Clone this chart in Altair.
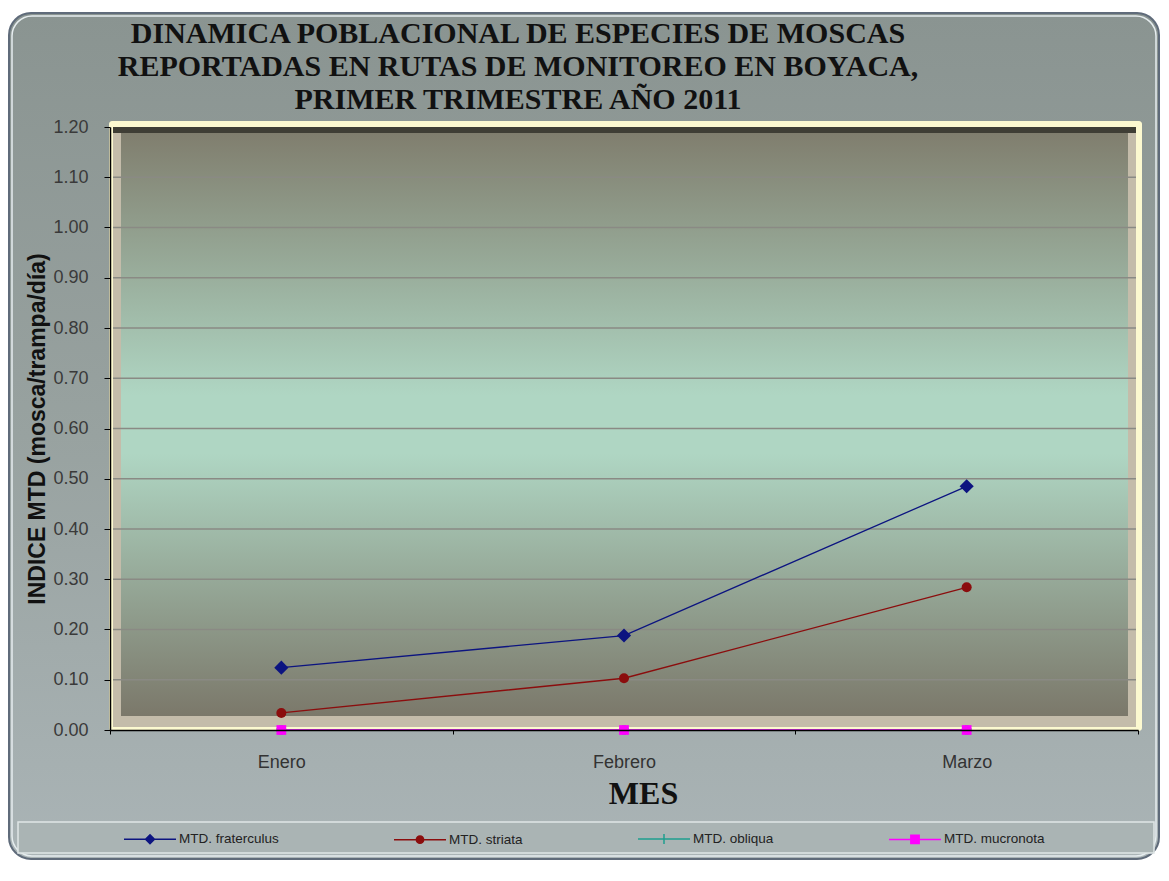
import altair as alt
import pandas as pd

# ---------------- data ----------------
meses = ["Enero", "Febrero", "Marzo"]
series = ["MTD. fraterculus", "MTD. striata", "MTD. obliqua", "MTD. mucronota"]
fraterculus = [0.124, 0.188, 0.485]
striata = [0.034, 0.103, 0.284]
obliqua = [0.0, 0.0, 0.0]
mucronota = [0.0, 0.0, 0.0]
y_ticks = [0.0, 0.1, 0.2, 0.3, 0.4, 0.5, 0.6, 0.7, 0.8, 0.9, 1.0, 1.1, 1.2]

colores = ["#0c1480", "#8b0d0d", "#1f9e8e", "#ff00ff"]
formas = ["diamond", "circle", "cross", "square"]
tamanos = [200, 100, 90, 95]
# legend symbols: a line segment with the marker in the middle
leyenda_formas = [
    "M-1,0H1M0,-0.17L0.17,0L0,0.17L-0.17,0Z",
    "M-1,0H1M0.14,0A0.14,0.14,0,1,1,-0.14,0A0.14,0.14,0,1,1,0.14,0Z",
    "M-1,0H1M0,-0.19V0.19",
    "M-1,0H1M-0.16,-0.16H0.16V0.16H-0.16Z",
]

valores = [fraterculus, striata, obliqua, mucronota]
rows = []
for s, vals in zip(series, valores):
    for m, v in zip(meses, vals):
        rows.append({"mes": m, "valor": v, "serie": s})
df = pd.DataFrame(rows)
grid_df = pd.DataFrame({"valor": y_ticks[1:-1]})
one = pd.DataFrame({"k": [0]})

W, H = 1028, 603

xscale = alt.Scale(domain=meses, paddingInner=0, paddingOuter=0)
yscale = alt.Scale(domain=[0, 1.2], nice=False)
cscale = alt.Scale(domain=series, range=colores)

xaxis = alt.Axis(labelAngle=0, labelFont="Liberation Sans", labelFontSize=18,
                 labelColor="#333333", labelPadding=19, tickBand="extent",
                 tickSize=4, tickColor="black", domainColor="black",
                 domainWidth=1.5, grid=False, title="MES",
                 titleFont="Liberation Serif", titleFontSize=32,
                 titleFontWeight="bold", titleColor="#111111",
                 titlePadding=7, titleX=533, zindex=1)
yaxis = alt.Axis(values=y_ticks, format=".2f", grid=False,
                 domainColor="black", domainWidth=1.5, tickColor="black",
                 tickSize=6, labelFont="Liberation Sans", labelFontSize=18,
                 labelColor="#3a3a3a", labelPadding=16,
                 title="INDICE MTD (mosca/trampa/día)",
                 titleFont="Liberation Sans", titleFontSize=23,
                 titleFontWeight="bold", titleColor="#111111",
                 titlePadding=3, zindex=1)

leg = alt.Legend(orient="none", legendX=13, legendY=685, direction="horizontal",
                 title=None, symbolSize=2704, symbolStrokeWidth=1.5,
                 symbolOpacity=1, labelFont="Liberation Sans", labelFontSize=13.5,
                 labelColor="#222222", labelOffset=2, columnPadding=112)

X = alt.X("mes:N", scale=xscale, axis=xaxis, sort=meses)
Y = alt.Y("valor:Q", scale=yscale, axis=yaxis)
C = alt.Color("serie:N", scale=cscale, legend=leg)


def grad(stops):
    return alt.LinearGradient(
        gradient="linear", x1=0, y1=0, x2=0, y2=1,
        stops=[alt.GradientStop(color=c, offset=o) for o, c in stops])


def caja(x1, x2, y1, y2, **kw):
    return alt.Chart(one).mark_rect(**kw).encode(
        x=alt.value(x1), x2=alt.value(x2), y=alt.value(y1), y2=alt.value(y2))


marco = caja(-101, 1049, -114, 732,
             fill=grad([(0, "#8a9491"), (0.5, "#98a2a0"), (1, "#aab4b6")]),
             stroke="#5f6b7a", strokeWidth=2, cornerRadius=22)
marco_luz = caja(-98, 1046, -111, 729, fillOpacity=0, stroke="#e6edef",
                 strokeWidth=1.5, cornerRadius=20)
caja_leyenda = caja(-92, 1044, 695, 726, fill="#aab4b4", stroke="#dfe6e6",
                    strokeWidth=1.5)
amarillo = caja(-1, 1032, -6, 604, fill="#fcf9d0", cornerRadius=3)
bisel = caja(3, 1026, 0, 600, fill="#c4bcaa")
bisel_sup = caja(3, 1026, 0, 6, fill="#3f3e35")
fondo = caja(11, 1018, 6, 589,
             fill=grad([(0, "#807e6e"), (0.45, "#afd6c3"), (0.55, "#afd6c3"),
                        (1, "#7b786a")]))

grid = alt.Chart(grid_df).mark_rule(color="#8a8a84", strokeWidth=1.3).encode(
    y=Y, x=alt.value(3), x2=alt.value(1026))

lineas = alt.Chart(df).mark_line(strokeWidth=1.3).encode(x=X, y=Y, color=C)

puntos = []
for s, f, t in zip(series, formas, tamanos):
    puntos.append(
        alt.Chart(df).transform_filter(alt.datum.serie == s)
        .mark_point(shape=f, filled=True, size=t, opacity=1)
        .encode(x=X, y=Y, color=C))

leyenda = alt.Chart(df).mark_point(filled=True, opacity=0).encode(
    x=X, y=Y, color=C,
    stroke=alt.Stroke("serie:N", scale=alt.Scale(domain=series, range=colores), legend=leg),
    shape=alt.Shape("serie:N", scale=alt.Scale(domain=series, range=leyenda_formas), legend=leg),
)

chart = alt.layer(marco, marco_luz, caja_leyenda, amarillo, bisel, bisel_sup,
                  fondo, grid, lineas, *puntos, leyenda).properties(
    width=W, height=H,
    title=alt.TitleParams(
        text=["DINAMICA POBLACIONAL  DE ESPECIES DE MOSCAS",
              "REPORTADAS EN RUTAS DE MONITOREO EN BOYACA,",
              "PRIMER TRIMESTRE AÑO 2011"],
        font="Liberation Serif", fontSize=30, fontWeight="bold",
        color="#111111", anchor="middle", frame="group", dx=-106,
        lineHeight=33, offset=-103),
    padding={"left": 102, "top": 119, "right": 22, "bottom": 130},
    autosize=alt.AutoSizeParams(type="none"),
    background="white",
).configure_view(stroke=None)

chart.save("out.html", embed_options={"renderer": "svg", "actions": False})
